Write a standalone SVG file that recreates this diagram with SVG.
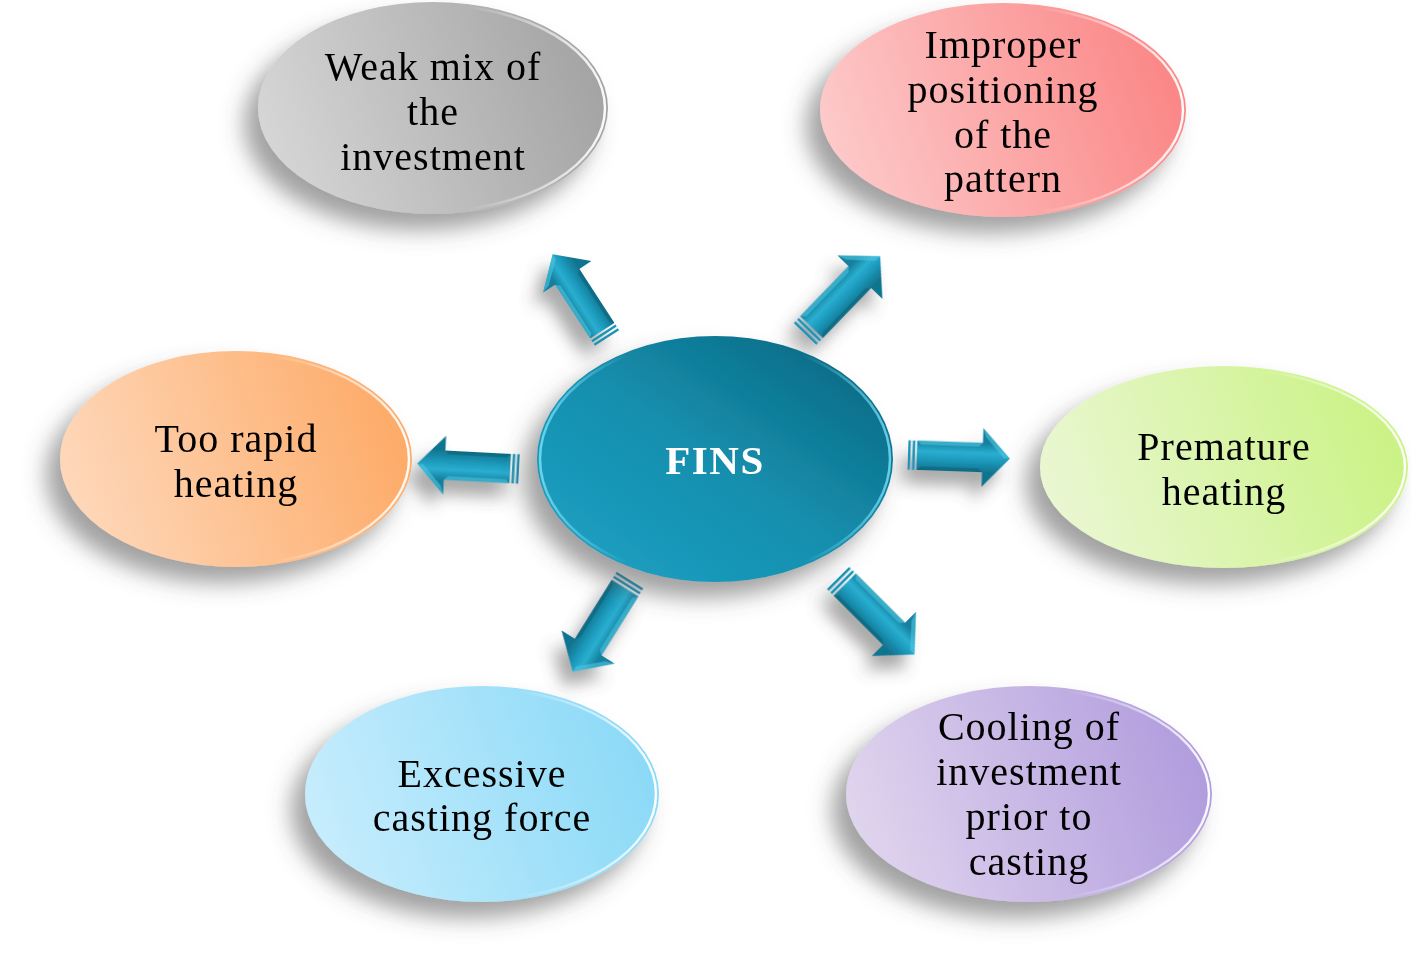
<svg xmlns="http://www.w3.org/2000/svg" width="1411" height="959" viewBox="0 0 1411 959">
<style>
.lbl{font-family:"Liberation Serif","Times New Roman",serif;font-size:40px;letter-spacing:1px;fill:#000;text-anchor:middle}
.hub{font-family:"Liberation Serif","Times New Roman",serif;font-size:41px;font-weight:bold;letter-spacing:1.5px;fill:#fff;text-anchor:middle}
.rim{fill:none;stroke-width:2.5}
</style>
<defs>
<filter id="sh" x="-30%" y="-30%" width="160%" height="170%">
<feGaussianBlur in="SourceAlpha" stdDeviation="11"/>
<feOffset dx="-14" dy="16" result="b"/>
<feFlood flood-color="#555" flood-opacity="0.55"/>
<feComposite in2="b" operator="in"/>
<feMerge><feMergeNode/><feMergeNode in="SourceGraphic"/></feMerge>
</filter>
<filter id="ash" x="-50%" y="-50%" width="200%" height="200%">
<feGaussianBlur in="SourceAlpha" stdDeviation="8"/>
<feOffset dx="-10" dy="14" result="b"/>
<feFlood flood-color="#555" flood-opacity="0.5"/>
<feComposite in2="b" operator="in"/>
<feMerge><feMergeNode/><feMergeNode in="SourceGraphic"/></feMerge>
</filter>
<linearGradient id="gGray" x1="0" y1="0.6" x2="1" y2="0.4"><stop offset="0" stop-color="#d6d6d6"/><stop offset="1" stop-color="#a3a3a3"/></linearGradient>
<linearGradient id="gPink" x1="0" y1="0.6" x2="1" y2="0.4"><stop offset="0" stop-color="#fdcaca"/><stop offset="1" stop-color="#fb8585"/></linearGradient>
<linearGradient id="gOrange" x1="0" y1="0.6" x2="1" y2="0.4"><stop offset="0" stop-color="#fed8bb"/><stop offset="1" stop-color="#fdaa66"/></linearGradient>
<linearGradient id="gGreen" x1="0" y1="0.6" x2="1" y2="0.4"><stop offset="0" stop-color="#eaf7d3"/><stop offset="1" stop-color="#caf283"/></linearGradient>
<linearGradient id="gBlue" x1="0" y1="0.6" x2="1" y2="0.4"><stop offset="0" stop-color="#c7edfd"/><stop offset="1" stop-color="#8ad9f7"/></linearGradient>
<linearGradient id="gPurple" x1="0" y1="0.6" x2="1" y2="0.4"><stop offset="0" stop-color="#e0d5ee"/><stop offset="1" stop-color="#b09bdd"/></linearGradient>
<linearGradient id="gTeal" x1="0" y1="1" x2="1" y2="0"><stop offset="0" stop-color="#1ea3c6"/><stop offset="0.5" stop-color="#148ead"/><stop offset="1" stop-color="#0b627b"/></linearGradient>
<linearGradient id="rimR" x1="0" y1="0" x2="1" y2="0"><stop offset="0.6" stop-color="#fff" stop-opacity="0"/><stop offset="1" stop-color="#fff" stop-opacity="0.95"/></linearGradient>
<linearGradient id="rimL" x1="0" y1="0" x2="1" y2="0"><stop offset="0" stop-color="#6fd6f0" stop-opacity="0.95"/><stop offset="0.25" stop-color="#6fd6f0" stop-opacity="0"/><stop offset="0.75" stop-color="#6fd6f0" stop-opacity="0"/><stop offset="1" stop-color="#6fd6f0" stop-opacity="0.9"/></linearGradient>
<linearGradient id="gArr" gradientUnits="userSpaceOnUse" x1="0" y1="-15" x2="0" y2="15"><stop offset="0" stop-color="#137f9c"/><stop offset="0.35" stop-color="#2aaed0"/><stop offset="0.6" stop-color="#1d9bbd"/><stop offset="1" stop-color="#117590"/></linearGradient>
<g id="arrow">
<rect x="0" y="-15" width="2.5" height="30" fill="#1a93b5"/>
<rect x="4.5" y="-15" width="2.5" height="30" fill="#1a93b5"/>
<polygon points="9,-15 76,-15 76,-30 104,0 76,30 76,15 9,15" fill="url(#gArr)"/>
<polygon points="9,-15 76,-15 72,-11 13,-11" fill="#4fc6e3" opacity="0.6"/>
<polygon points="76,-30 104,0 98,0 79,-21" fill="#4fc6e3" opacity="0.6"/>
<polygon points="9,15 76,15 72,11 13,11" fill="#0c5f76" opacity="0.5"/>
</g>
</defs>

<g id="connectors" filter="url(#ash)">
<use href="#arrow" transform="translate(607,338) rotate(-123) scale(0.96)"/>
<use href="#arrow" transform="translate(805,334) rotate(-46) scale(1.04)"/>
<use href="#arrow" transform="translate(908,455) rotate(2) scale(0.98)"/>
<use href="#arrow" transform="translate(519,469) rotate(183) scale(0.98)"/>
<use href="#arrow" transform="translate(630,580) rotate(122) scale(1.04)"/>
<use href="#arrow" transform="translate(838,578) rotate(45) scale(1.04)"/>
</g>

<g id="node-weak">
<ellipse cx="433" cy="108" rx="175" ry="106" fill="url(#gGray)" filter="url(#sh)"/>
<ellipse cx="433" cy="108" rx="172" ry="103" class="rim" stroke="url(#rimR)"/>
<text class="lbl" x="433" y="80">Weak mix of</text>
<text class="lbl" x="433" y="125">the</text>
<text class="lbl" x="433" y="170">investment</text>
</g>

<g id="node-improper">
<ellipse cx="1003" cy="110" rx="183" ry="107" fill="url(#gPink)" filter="url(#sh)"/>
<ellipse cx="1003" cy="110" rx="180" ry="104" class="rim" stroke="url(#rimR)"/>
<text class="lbl" x="1003" y="58">Improper</text>
<text class="lbl" x="1003" y="103">positioning</text>
<text class="lbl" x="1003" y="148">of the</text>
<text class="lbl" x="1003" y="192">pattern</text>
</g>

<g id="node-rapid">
<ellipse cx="236" cy="459" rx="176" ry="108" fill="url(#gOrange)" filter="url(#sh)"/>
<ellipse cx="236" cy="459" rx="173" ry="105" class="rim" stroke="url(#rimR)"/>
<text class="lbl" x="236" y="452">Too rapid</text>
<text class="lbl" x="236" y="497">heating</text>
</g>

<g id="node-fins">
<ellipse cx="715" cy="459" rx="178" ry="123" fill="url(#gTeal)" filter="url(#sh)"/>
<ellipse cx="715" cy="459" rx="175" ry="120" class="rim" stroke="url(#rimL)"/>
<text class="hub" x="715" y="474">FINS</text>
</g>

<g id="node-premature">
<ellipse cx="1224" cy="467" rx="184" ry="101" fill="url(#gGreen)" filter="url(#sh)"/>
<ellipse cx="1224" cy="467" rx="181" ry="98" class="rim" stroke="url(#rimR)"/>
<text class="lbl" x="1224" y="460">Premature</text>
<text class="lbl" x="1224" y="505">heating</text>
</g>

<g id="node-excessive">
<ellipse cx="482" cy="794" rx="177" ry="108" fill="url(#gBlue)" filter="url(#sh)"/>
<ellipse cx="482" cy="794" rx="174" ry="105" class="rim" stroke="url(#rimR)"/>
<text class="lbl" x="482" y="787">Excessive</text>
<text class="lbl" x="482" y="831">casting force</text>
</g>

<g id="node-cooling">
<ellipse cx="1029" cy="794" rx="183" ry="108" fill="url(#gPurple)" filter="url(#sh)"/>
<ellipse cx="1029" cy="794" rx="180" ry="105" class="rim" stroke="url(#rimR)"/>
<text class="lbl" x="1029" y="740">Cooling of</text>
<text class="lbl" x="1029" y="785">investment</text>
<text class="lbl" x="1029" y="830">prior to</text>
<text class="lbl" x="1029" y="875">casting</text>
</g>
</svg>
